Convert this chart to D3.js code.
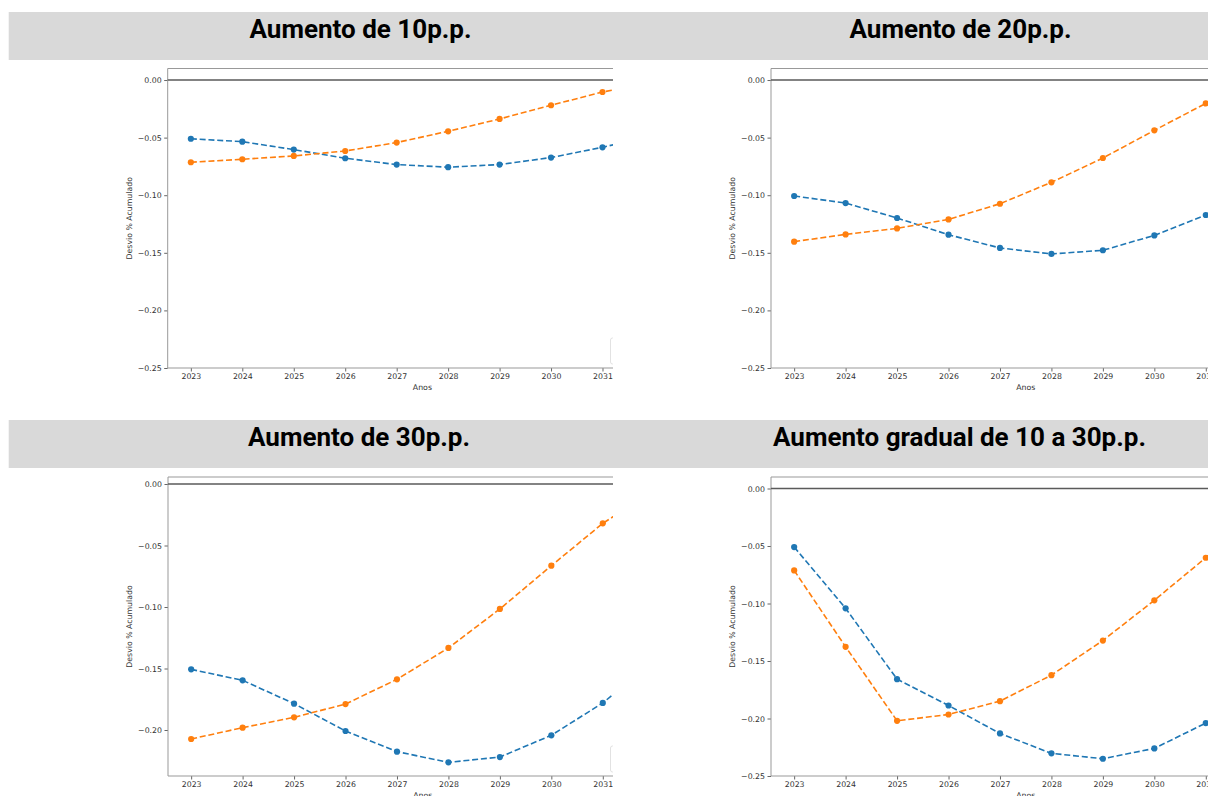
<!DOCTYPE html>
<html>
<head>
<meta charset="utf-8">
<script src="https://cdn.jsdelivr.net/npm/d3@7"></script>
<style>
  body { margin: 0; background: #fff; }
  .tick text { font-family: "DejaVu Sans", sans-serif; font-size: 7.8px; fill: #333; }
  .tick line { stroke: #666; }
  .domain { display: none; }
</style>
</head>
<body>
<svg width="1208" height="796"></svg>
<script>
var years = [2023, 2024, 2025, 2026, 2027, 2028, 2029, 2030, 2031, 2032];
var titles = ["Aumento de 10p.p.", "Aumento de 20p.p.", "Aumento de 30p.p.", "Aumento gradual de 10 a 30p.p."];

// azul e laranja por cenário
var blue10   = [-0.0510, -0.0535, -0.0604, -0.0679, -0.0734, -0.0757, -0.0734, -0.0673, -0.0584, -0.048];
var orange10 = [-0.0714, -0.0688, -0.0659, -0.0616, -0.0543, -0.0445, -0.0338, -0.0219, -0.0104, -0.002];
var blue20   = [-0.1007, -0.1068, -0.1198, -0.1343, -0.1458, -0.1510, -0.1478, -0.1349, -0.1172, -0.097];
var orange20 = [-0.1403, -0.1340, -0.1288, -0.1210, -0.1074, -0.0888, -0.0677, -0.0437, -0.0203, -0.004];
var blue30   = [-0.1507, -0.1596, -0.1786, -0.2008, -0.2176, -0.2263, -0.2220, -0.2043, -0.1780, -0.144];
var orange30 = [-0.2073, -0.1981, -0.1897, -0.1789, -0.1588, -0.1333, -0.1016, -0.0664, -0.0320, -0.005];
var blueGrad   = [-0.0509, -0.1042, -0.1658, -0.1887, -0.2130, -0.2303, -0.2350, -0.2260, -0.2040, -0.170];
var orangeGrad = [-0.0712, -0.1377, -0.2020, -0.1965, -0.1849, -0.1623, -0.1322, -0.0972, -0.0602, -0.020];

var yTicks = [0, -0.05, -0.10, -0.15, -0.20, -0.25];
var yLims = [[-0.25, 0.01], [-0.25, 0.01], [-0.2374, 0.0057], [-0.25, 0.01]];
var xLim = [2022.55, 2032.45];

var svg = d3.select("svg");
svg.append("rect").attr("width", 1208).attr("height", 796).attr("fill", "#fff");

// faixas cinzas dos títulos
[12, 420].forEach(function(y) {
  svg.append("rect").attr("x", 8.7).attr("y", y).attr("width", 1200).attr("height", 48).attr("fill", "#d9d9d9");
});

var panels = [
  {left: 167.7, top: 68.5, bottom: 368, titleX: 360.5, titleY: 37.5, clip: 613},
  {left: 771, top: 68.5, bottom: 368, titleX: 960.5, titleY: 37.5, clip: 1208},
  {left: 168, top: 477, bottom: 776, titleX: 359, titleY: 445.5, clip: 613},
  {left: 771, top: 477, bottom: 776, titleX: 959.5, titleY: 445.5, clip: 1208}
];
var series = [[blue10, orange10], [blue20, orange20], [blue30, orange30], [blueGrad, orangeGrad]];
var colors = ["#1f77b4", "#ff7f0e"];

panels.forEach(function(p, i) {
  svg.append("text")
      .attr("x", p.titleX).attr("y", p.titleY)
      .attr("text-anchor", "middle")
      .style("font-family", "Roboto, sans-serif").style("font-weight", 700)
      .style("font-size", "26px").style("fill", "#000")
      .text(titles[i]);

  svg.append("clipPath").attr("id", "clip" + i)
    .append("rect").attr("x", p.left - 80).attr("y", p.top - 10)
      .attr("width", p.clip - p.left + 80).attr("height", 796 - p.top + 10);
  svg.append("clipPath").attr("id", "plot" + i)
    .append("rect").attr("x", p.left).attr("y", p.top)
      .attr("width", p.clip - p.left).attr("height", p.bottom - p.top);

  var g = svg.append("g").attr("clip-path", "url(#clip" + i + ")");

  var x = d3.scaleLinear().domain(xLim).range([p.left, p.left + 509.4]);
  var y = d3.scaleLinear().domain(yLims[i]).range([p.bottom, p.top]);

  g.append("g").attr("transform", "translate(" + p.left + ",0)")
    .call(d3.axisLeft(y)
      .tickValues(yTicks.filter(function(t) { return t >= yLims[i][0]; }))
      .tickFormat(d3.format(".2f")).tickSize(3.5).tickPadding(2.5));

  g.append("g").attr("transform", "translate(0," + p.bottom + ")")
    .call(d3.axisBottom(x).tickValues(years).tickFormat(d3.format("d")).tickSize(3.5).tickPadding(2.4));

  // moldura
  g.append("line").attr("x1", p.left).attr("x2", 1300).attr("y1", p.top).attr("y2", p.top)
    .attr("stroke", "#999").attr("stroke-width", 1);
  g.append("line").attr("x1", p.left).attr("x2", 1300).attr("y1", p.bottom).attr("y2", p.bottom)
    .attr("stroke", "#999").attr("stroke-width", 1);
  g.append("line").attr("x1", p.left).attr("x2", p.left).attr("y1", p.top).attr("y2", p.bottom)
    .attr("stroke", "#999").attr("stroke-width", 1);

  // linha do zero
  g.append("line").attr("x1", p.left).attr("x2", 1300).attr("y1", y(0)).attr("y2", y(0))
    .attr("stroke", "#5a5a5a").attr("stroke-width", 1.4);

  // pedaço da legenda cortada
  if (p.clip < 1208) {
    g.append("rect").attr("x", 610.5).attr("y", p.bottom - 30).attr("width", 60).attr("height", 26)
      .attr("rx", 2).attr("fill", "#fff").attr("stroke", "#e2e2e2");
  }

  var pg = g.append("g").attr("clip-path", "url(#plot" + i + ")");
  series[i].forEach(function(vals, k) {
    var pts = years.map(function(yr, j) { return [yr, vals[j]]; });
    pg.append("path").datum(pts)
      .attr("fill", "none").attr("stroke", colors[k]).attr("stroke-width", 1.6)
      .attr("stroke-dasharray", "6,2.8")
      .attr("d", d3.line().x(function(d) { return x(d[0]); }).y(function(d) { return y(d[1]); }));
    pg.selectAll(null).data(pts).enter().append("circle")
      .attr("cx", function(d) { return x(d[0]); })
      .attr("cy", function(d) { return y(d[1]); })
      .attr("r", 3.1).attr("fill", colors[k]);
  });

  g.append("text")
      .attr("transform", "translate(" + (p.left - 35.7) + "," + ((p.top + p.bottom) / 2) + ") rotate(-90)")
      .attr("text-anchor", "middle")
      .style("font-family", "DejaVu Sans, sans-serif").style("font-size", "7.8px").style("fill", "#333")
      .text("Desvio % Acumulado");

  g.append("text")
      .attr("x", p.left + 254.7).attr("y", p.bottom + 22.4)
      .attr("text-anchor", "middle")
      .style("font-family", "DejaVu Sans, sans-serif").style("font-size", "7.8px").style("fill", "#333")
      .text("Anos");
});
</script>
</body>
</html>
